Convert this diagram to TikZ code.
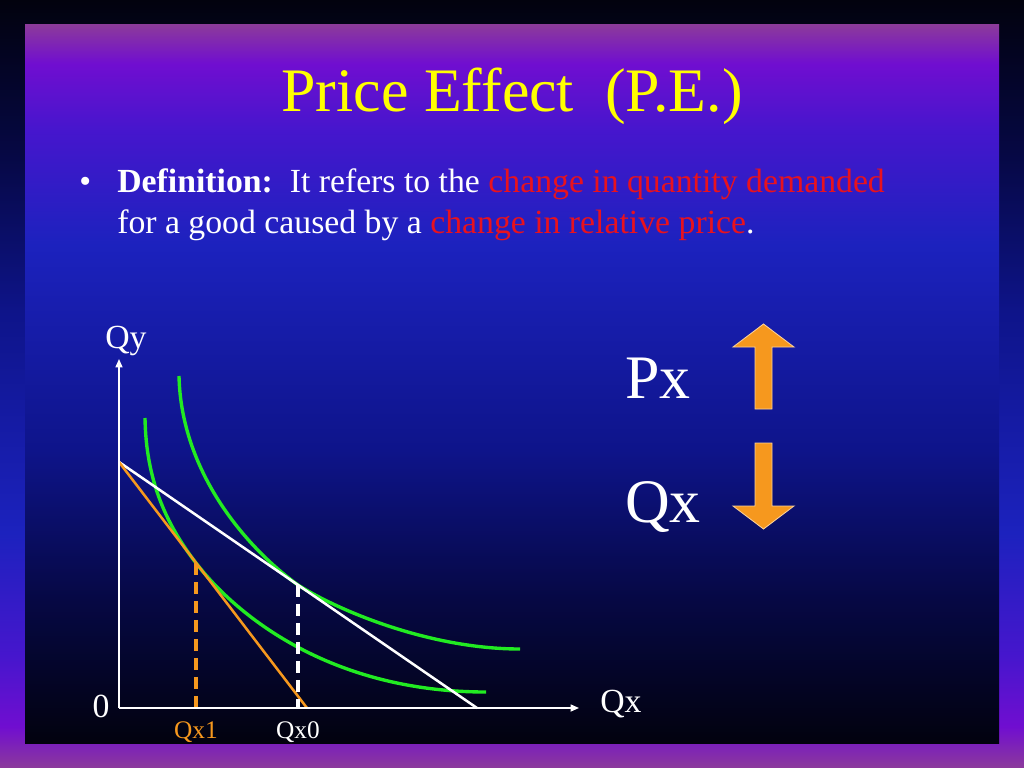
\documentclass[tikz,border=0pt]{standalone}
\usepackage{fontspec}
\setmainfont{Liberation Serif}
\usepackage{xcolor}
\usepackage{tikz}
\usetikzlibrary{positioning,arrows.meta}
\definecolor{bgA}{RGB}{140,58,155}
\definecolor{bgB}{RGB}{112,14,208}
\definecolor{bgC}{RGB}{70,22,205}
\definecolor{bgD}{RGB}{28,34,190}
\definecolor{bgE}{RGB}{14,20,138}
\definecolor{bgF}{RGB}{6,8,68}
\definecolor{bgG}{RGB}{2,2,14}
\definecolor{peyellow}{RGB}{255,255,0}
\definecolor{pered}{RGB}{232,18,30}
\definecolor{peorange}{RGB}{246,152,30}
\definecolor{pegreen}{RGB}{34,235,34}
\pgfdeclareverticalshading{slidebg}{100bp}{color(0bp)=(bgG); color(25bp)=(bgG);
  color(35bp)=(bgF); color(45.4bp)=(bgE); color(59.7bp)=(bgD); color(67.7bp)=(bgC);
  color(72.3bp)=(bgB); color(75bp)=(bgA); color(100bp)=(bgA)}
\tikzset{
  ttl/.style={font=\fontsize{44}{52}\selectfont, text=peyellow, inner sep=0pt, anchor=base},
  body/.style={font=\fontsize{24}{30}\selectfont, text=white, inner sep=0pt, anchor=base west},
  big/.style={font=\fontsize{44}{52}\selectfont, text=white, inner sep=0pt, anchor=base west},
  axlbl/.style={font=\fontsize{24}{28}\selectfont, text=white, inner sep=0pt, anchor=base west},
  qlbl/.style={font=\fontsize{18}{22}\selectfont, inner sep=0pt, anchor=base},
  axis/.style={draw=white, line width=1.1pt, -{Triangle[length=6pt,width=5pt]}},
  budget/.style={line width=1.8pt},
  icurve/.style={draw=pegreen, line width=2.4pt},
  guide/.style={line width=2.2pt, dash pattern=on 8.5pt off 5pt},
  bigarrow/.style={fill=peorange, draw=peorange!45!white, line width=0.6pt, line join=miter},
}
\begin{document}
\begin{tikzpicture}[x=0.025cm, y=-0.025cm]
\useasboundingbox (0,0) rectangle (1024,768);
% slide background
\shade[shading=slidebg, shading angle=180] (0,0) rectangle (1024,768);
\shade[shading=slidebg] (25,25) rectangle (999,743);

\node[ttl] (title) at (512,112) {Price Effect\ \ (P.E.)};
\node[body] (bul) at (79,192) {\textbullet};
\node[body] (def1) at (117,192) {\textbf{Definition:}\hspace{0.5em}It refers to the \textcolor{pered}{change in quantity demanded}};
\node[body] (def2) at (117,233) {for a good caused by a \textcolor{pered}{change in relative price}.};

% the graph
\coordinate (O) at (119,708);
\coordinate (ytop) at (119,359);
\coordinate (xend) at (579,708);
\coordinate (A) at (119,462);
\coordinate (B0) at (477,708);
\coordinate (B1) at (307,708);
\coordinate (E0) at (298,585);
\coordinate (E1) at (196,563);
\coordinate (F0) at (298,708);
\coordinate (F1) at (196,708);

\draw[icurve] (179,376) .. controls (181,470) and (244,546) .. (E0)
  .. controls (339,611) and (430,649) .. (520,649);
\draw[icurve] (145,418) .. controls (146,480) and (166,524) .. (E1)
  .. controls (236,615) and (330,692) .. (486,692);
\draw[budget, white] (A) -- (B0);
\draw[budget, peorange] (A) -- (B1);
\draw[guide, white] (E0) -- (F0);
\draw[guide, peorange] (E1) -- (F1);
\draw[axis] (O) -- (ytop);
\draw[axis] (O) -- (xend);

\node[axlbl] (qy) at (105,348) {Qy};
\node[axlbl] (qx) at (600,712) {Qx};
\node[font=\fontsize{24}{28}\selectfont, text=white, inner sep=0pt, anchor=base] (zero) at (101,717) {0};
\node[qlbl, text=peorange] (qx1) at (F1 |- 0,738) {Qx1};
\node[qlbl, text=white] (qx0) at (F0 |- 0,738) {Qx0};

% price up, quantity down
\node[big] (px) at (625,398) {Px};
\node[big] (qxbig) at (625,522) {Qx};
\draw[bigarrow] (755,409) -- (755,347) -- (733,347) -- (763.5,324) -- (794,347)
  -- (772,347) -- (772,409) -- cycle;
\draw[bigarrow] (755,443) -- (772,443) -- (772,506) -- (794,506) -- (763.5,529)
  -- (733,506) -- (755,506) -- cycle;
\end{tikzpicture}
\end{document}
